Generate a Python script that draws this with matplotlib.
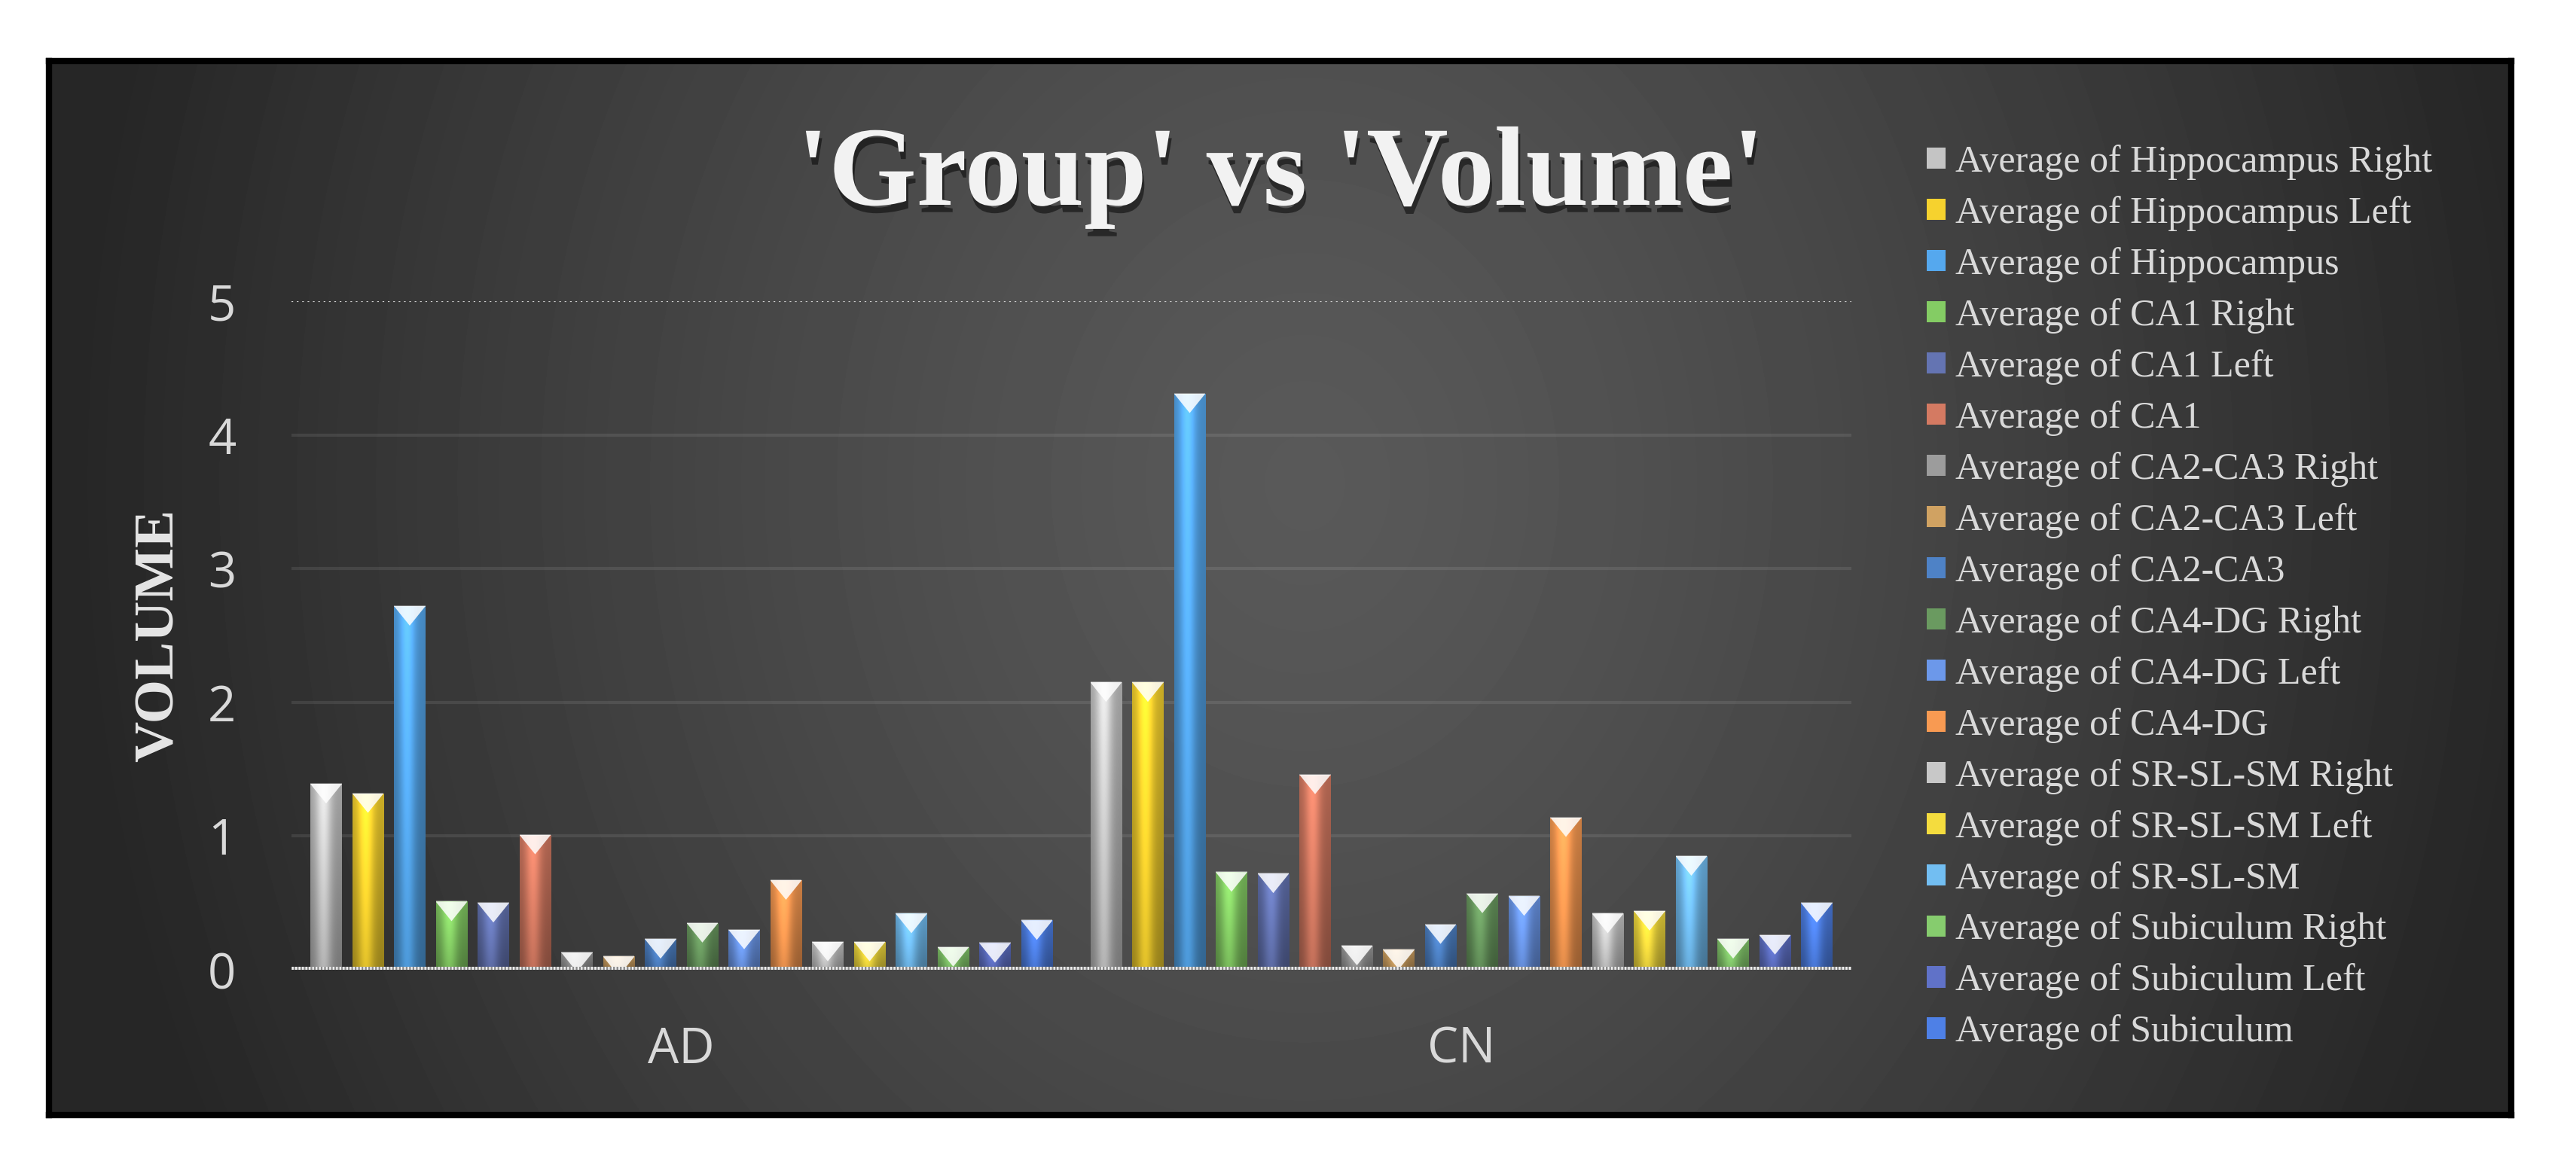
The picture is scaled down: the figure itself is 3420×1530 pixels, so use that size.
import numpy as np
import matplotlib
matplotlib.use('Agg')
import matplotlib.pyplot as plt
from matplotlib.patches import Patch, Polygon
from matplotlib import patheffects as pe
from matplotlib.colors import to_rgb

# ---------------- data ----------------
groups = ['AD', 'CN']
series_labels = [
    'Average of Hippocampus Right', 'Average of Hippocampus Left', 'Average of Hippocampus',
    'Average of CA1 Right', 'Average of CA1 Left', 'Average of CA1',
    'Average of CA2-CA3 Right', 'Average of CA2-CA3 Left', 'Average of CA2-CA3',
    'Average of CA4-DG Right', 'Average of CA4-DG Left', 'Average of CA4-DG',
    'Average of SR-SL-SM Right', 'Average of SR-SL-SM Left', 'Average of SR-SL-SM',
    'Average of Subiculum Right', 'Average of Subiculum Left', 'Average of Subiculum',
]
ad_values = [1.39, 1.32, 2.72, 0.51, 0.50, 1.01, 0.13, 0.10, 0.23,
             0.35, 0.30, 0.67, 0.21, 0.21, 0.42, 0.17, 0.20, 0.37]
cn_values = [2.15, 2.15, 4.31, 0.73, 0.72, 1.46, 0.18, 0.15, 0.34,
             0.57, 0.55, 1.14, 0.42, 0.44, 0.85, 0.23, 0.26, 0.50]
y_ticks = [0, 1, 2, 3, 4, 5]

colors = ['#c4c4c4', '#f6d22e', '#55a8ee', '#84cc64', '#6474b2', '#d47a62',
          '#9c9c9c', '#d0a262', '#4e82c6', '#6a9a60', '#6c98ea', '#f89a52',
          '#c8c8c8', '#f4dc3e', '#72bef2', '#86cc6e', '#6072c8', '#4e80e6']

# ---------------- figure ----------------
W, H = 3420, 1530
plt.rcParams['font.family'] = ['Open Sans', 'DejaVu Sans']
fig = plt.figure(figsize=(W / 100, H / 100), dpi=100)
fig.patch.set_facecolor('white')

# framed dark background with soft radial gradient
fx0, fx1 = 65 / W, 3334 / W
fy0, fy1 = 1 - 1481 / H, 1 - 81 / H
bg = fig.add_axes([fx0, fy0, fx1 - fx0, fy1 - fy0], zorder=0)
ny, nx = 200, 400
yy, xx = np.mgrid[0:1:ny * 1j, 0:1:nx * 1j]
r = np.sqrt(((xx - 0.51) / 0.5) ** 2 + ((yy - 0.6) / 1.4) ** 2)
val = 0.35 - (0.35 - 0.15) * np.clip(r, 0, 1) ** 1.3
bg.imshow(val, cmap='gray', vmin=0, vmax=1, extent=[0, 1, 0, 1], aspect='auto',
          interpolation='bilinear', origin='lower')
bg.set_xticks([])
bg.set_yticks([])
for s in bg.spines.values():
    s.set_color('black')
    s.set_linewidth(6)

# plot axes
ax = fig.add_axes([387 / W, 1 - 1288 / H, (2458 - 387) / W, (1288 - 400) / H], zorder=1)
ax.set_facecolor('none')
for s in ax.spines.values():
    s.set_visible(False)

n = len(series_labels)
pitch = 0.0536
bw = 0.0405
cat_x = np.arange(len(groups))
px_per_unit = ax.get_position().height * H / 5.0
tri_h = 26 / px_per_unit

# horizontal / vertical shading profiles for the glossy bars
u = np.linspace(0, 1, 40)
hprof = 0.74 + 0.38 * np.exp(-((u - 0.42) / 0.26) ** 2)
t = np.linspace(0, 1, 80)
vprof = 0.82 + 0.28 * t

for i in range(n):
    vals = [ad_values[i], cn_values[i]]
    xs = cat_x + (i - (n - 1) / 2) * pitch
    bars = ax.bar(xs, vals, width=bw, color=colors[i], edgecolor='none', zorder=3)
    base = np.array(to_rgb(colors[i]))
    img = np.clip(base[None, None, :] * hprof[None, :, None] * vprof[:, None, None], 0, 1)
    for b in bars:
        x0, w, h = b.get_x(), b.get_width(), b.get_height()
        im = ax.imshow(img, extent=[x0, x0 + w, 0, h], origin='lower', aspect='auto',
                       interpolation='bilinear', zorder=4)
        im.set_clip_path(b)
        tri = Polygon([[x0, h], [x0 + w, h], [x0 + w / 2, h - tri_h]], closed=True,
                      facecolor='white', alpha=0.85, edgecolor='none', zorder=5)
        ax.add_patch(tri)
        tri.set_clip_path(b)
        ax.plot([x0, x0 + w], [h, h], color='white', alpha=0.35, lw=1.5, zorder=6,
                solid_capstyle='butt')

# grid lines, zero line, dotted top line
ax.hlines(y_ticks[1:-1], -0.5, 1.5, colors='white', alpha=0.09, lw=3, zorder=1)
ax.axhline(y_ticks[-1], color='#d0d0d0', lw=1.6, linestyle=(0, (1, 2.2)), zorder=1)
ax.axhline(0, color='#8a8a8a', lw=6.5, zorder=7)
ax.axhline(0, color='#f0f0f0', lw=6.5, linestyle=(0, (0.25, 0.25)), zorder=8)

ax.set_xlim(-0.5, 1.5)
ax.set_ylim(0, 5)
ax.set_xticks(cat_x)
ax.set_xticklabels(groups)
ax.set_yticks(y_ticks)
ax.set_yticklabels([str(v) for v in y_ticks])
ax.tick_params(length=0, pad=53, labelsize=47, labelcolor='#d9d9d9')

# y label
fig.text(212 / W, 1 - 844 / H, 'VOLUME', rotation=90, ha='center', va='center',
         fontsize=54, fontweight='bold', family='Liberation Serif', color='#e6e6e6')

# title
fig.text(1700 / W, 1 - 272 / H, "'Group' vs 'Volume'", ha='center', va='baseline',
         fontsize=108, fontweight='bold', family='Liberation Serif', color='#f2f2f2',
         path_effects=[pe.withSimplePatchShadow(offset=(2, -7), shadow_rgbFace='black',
                                                alpha=0.5)])

# legend
handles = [Patch(facecolor=c, edgecolor='none') for c in colors]
fig.legend(handles, series_labels, loc='upper left', bbox_to_anchor=(2558 / W, 1 - 192 / H),
           frameon=False, prop={'family': 'Liberation Serif', 'size': 36},
           labelcolor='#d9d9d9', handlelength=0.5, handleheight=0.5, handletextpad=0.25,
           labelspacing=0.42, borderaxespad=0, borderpad=0)

fig.savefig('out.png', dpi=100, facecolor='white')
